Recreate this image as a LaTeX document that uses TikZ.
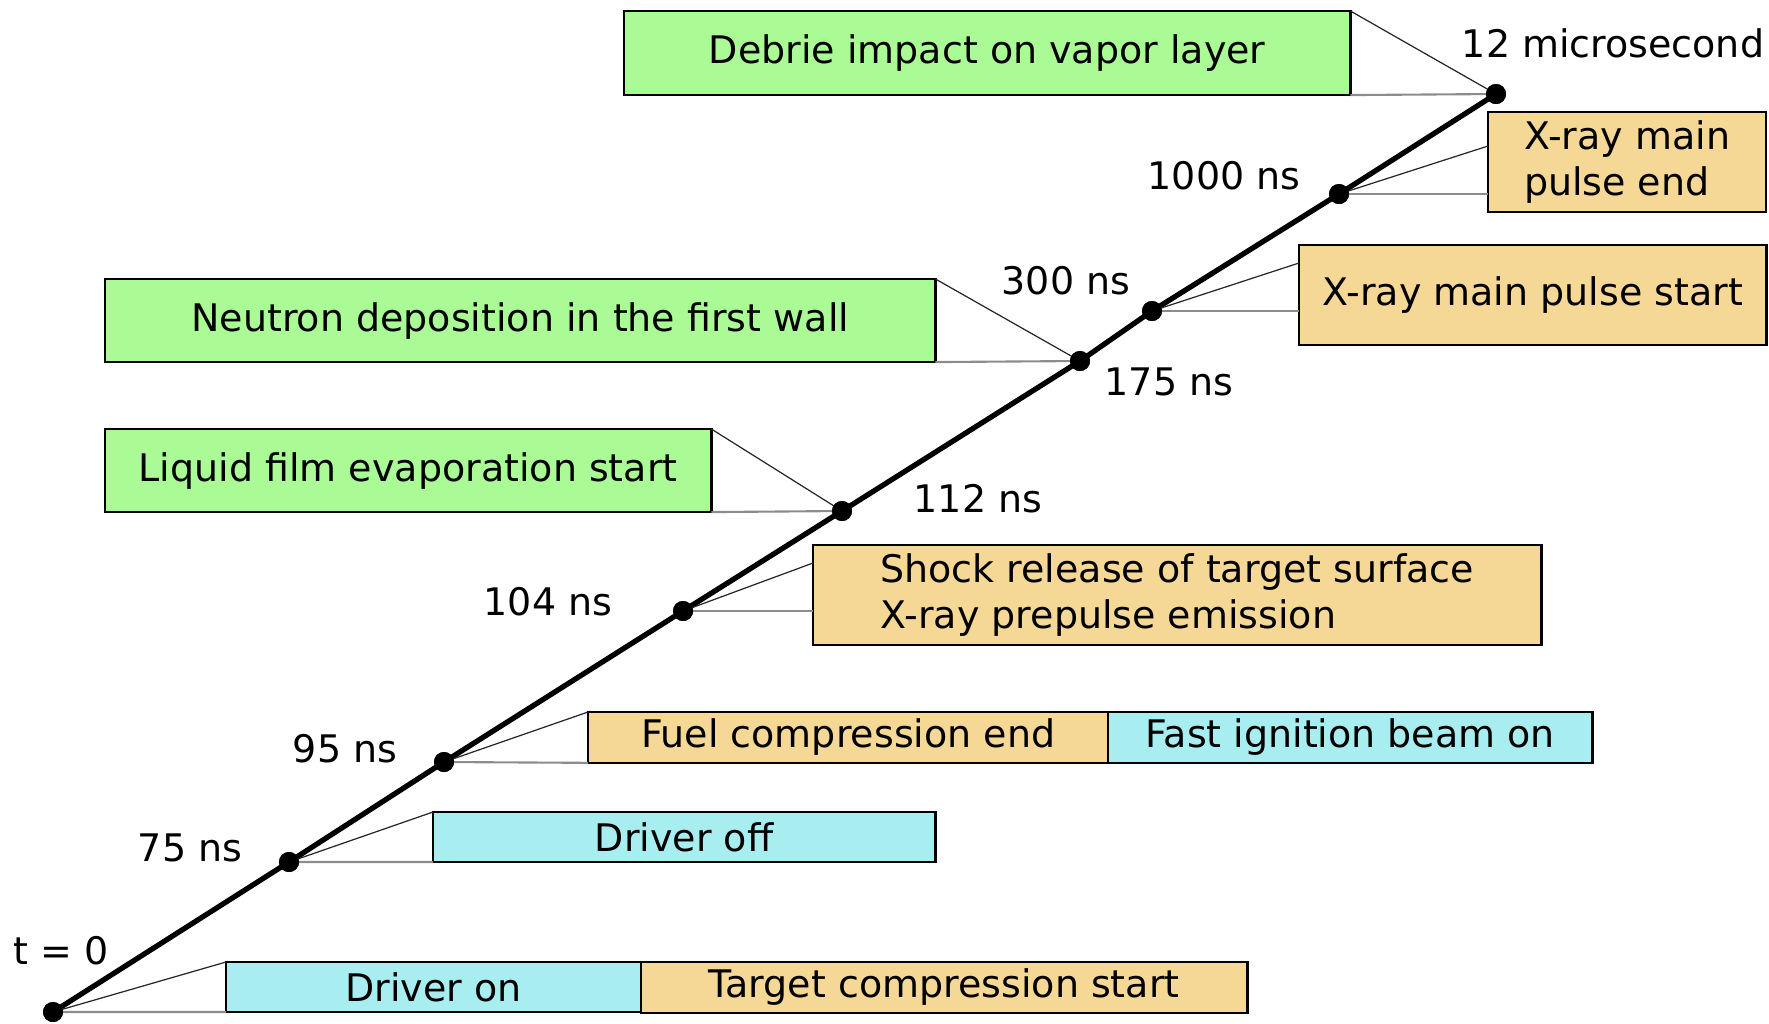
\documentclass[tikz,border=0pt]{standalone}
\usepackage{fontspec}
\setmainfont{DejaVu Sans}
\usepackage{tikz}
\usetikzlibrary{positioning, calc}
\definecolor{evgreen}{RGB}{170, 250, 150}
\definecolor{evcyan}{RGB}{168, 238, 240}
\definecolor{evorange}{RGB}{245, 215, 150}

\tikzset{
  evbox/.style={draw=black, line width=0.7pt, inner sep=2pt, outer sep=0pt, anchor=north west, minimum height=0.5cm},
  greenbox/.style={evbox, fill=evgreen},
  cyanbox/.style={evbox, fill=evcyan},
  orangebox/.style={evbox, fill=evorange, align=left},
  evdot/.style={circle, fill=black, inner sep=0pt, minimum size=0.2cm},
  timeline/.style={line width=1.5pt},
  tiplink/.style={line width=0.35pt, draw=black!85},
  baselink/.style={line width=0.6pt, draw=black!45},
  tlabel/.style={inner sep=0pt}
}

\begin{document}
\begin{tikzpicture}[x=0.01cm, y=-0.01cm, font=\fontsize{10.8}{13}\selectfont]
  \useasboundingbox (0,0) rectangle (1769,1023);

  % time points
  \node[evdot] (t0)   at (53,1012) {};
  \node[evdot] (t75)  at (289,862) {};
  \node[evdot] (t95)  at (444,762) {};
  \node[evdot] (t104) at (683,611) {};
  \node[evdot] (t112) at (842,511) {};
  \node[evdot] (t175) at (1080,361) {};
  \node[evdot] (t300) at (1152,311) {};
  \node[evdot] (t1000) at (1339,194) {};
  \node[evdot] (t12us) at (1496,94) {};

  \draw[timeline] (t0.center) -- (t75.center) -- (t95.center) -- (t104.center) -- (t112.center)
    -- (t175.center) -- (t300.center) -- (t1000.center) -- (t12us.center);

  % time labels
  \node[tlabel] (l0)    at (61,951)   {t = 0};
  \node[tlabel] (l75)   at (190,848)  {75 ns};
  \node[tlabel] (l95)   at (345,749)  {95 ns};
  \node[tlabel] (l104)  at (548,602)  {104 ns};
  \node[tlabel] (l112)  at (978,499)  {112 ns};
  \node[tlabel] (l175)  at (1169,382) {175 ns};
  \node[tlabel] (l300)  at (1066,281) {300 ns};
  \node[tlabel] (l1000) at (1224,176) {1000 ns};
  \node[tlabel] (l12us) at (1613,43)  {12 microsecond};

  % events
  \node[cyanbox, minimum width=4.15cm] (drvon) at (226,962) {Driver on};
  \node[orangebox, minimum width=6.06cm, minimum height=0.5cm] (tgtcomp) at (641,962) {Target compression start};
  \node[cyanbox, minimum width=5.02cm] (drvoff) at (433,812) {Driver off};
  \node[orangebox, minimum width=5.20cm] (fuelend) at (588,712) {Fuel compression end};
  \node[cyanbox, minimum width=4.84cm] (fastign) at (1108,712) {Fast ignition beam on};
  \node[orangebox, minimum width=7.28cm, minimum height=1.0cm] (shock) at (813,545)
    {Shock release of target surface\\X-ray prepulse emission};
  \node[greenbox, minimum width=6.06cm, minimum height=0.83cm] (liquid) at (105,429) {Liquid film evaporation start};
  \node[greenbox, minimum width=8.30cm, minimum height=0.83cm] (neutron) at (105,279) {Neutron deposition in the first wall};
  \node[orangebox, minimum width=4.67cm, minimum height=1.0cm] (xstart) at (1299,245) {X-ray main pulse start};
  \node[orangebox, minimum width=2.78cm, minimum height=1.0cm, inner xsep=0pt] (xend) at (1488,112) {X-ray main\\pulse end};
  \node[greenbox, minimum width=7.26cm, minimum height=0.84cm] (debrie) at (624,11) {Debrie impact on vapor layer};

  % connectors to the right
  \draw[tiplink] (t0.center) -- (drvon.north west);
  \draw[baselink] (t0.center) -- (drvon.south west);
  \draw[tiplink] (t75.center) -- (drvoff.north west);
  \draw[baselink] (t75.center) -- (drvoff.south west);
  \draw[tiplink] (t95.center) -- (fuelend.north west);
  \draw[baselink] (t95.center) -- (fuelend.south west);
  \draw[tiplink] (t104.center) -- ($(shock.west |- t104)+(0,-48)$);
  \draw[baselink] (t104.center) -- (shock.west |- t104);
  \draw[tiplink] (t300.center) -- ($(xstart.west |- t300)+(0,-48)$);
  \draw[baselink] (t300.center) -- (xstart.west |- t300);
  \draw[tiplink] (t1000.center) -- ($(xend.west |- t1000)+(0,-48)$);
  \draw[baselink] (t1000.center) -- (xend.west |- t1000);

  % connectors to the left
  \draw[tiplink] (liquid.north east) -- (t112.center);
  \draw[baselink] (liquid.south east) -- (t112.center);
  \draw[tiplink] (neutron.north east) -- (t175.center);
  \draw[baselink] (neutron.south east) -- (t175.center);
  \draw[tiplink] (debrie.north east) -- (t12us.center);
  \draw[baselink] (debrie.south east) -- (t12us.center);

  % dots on top again
  \foreach \p in {t0, t75, t95, t104, t112, t175, t300, t1000, t12us}
    \fill (\p) circle (10);
\end{tikzpicture}
\end{document}
